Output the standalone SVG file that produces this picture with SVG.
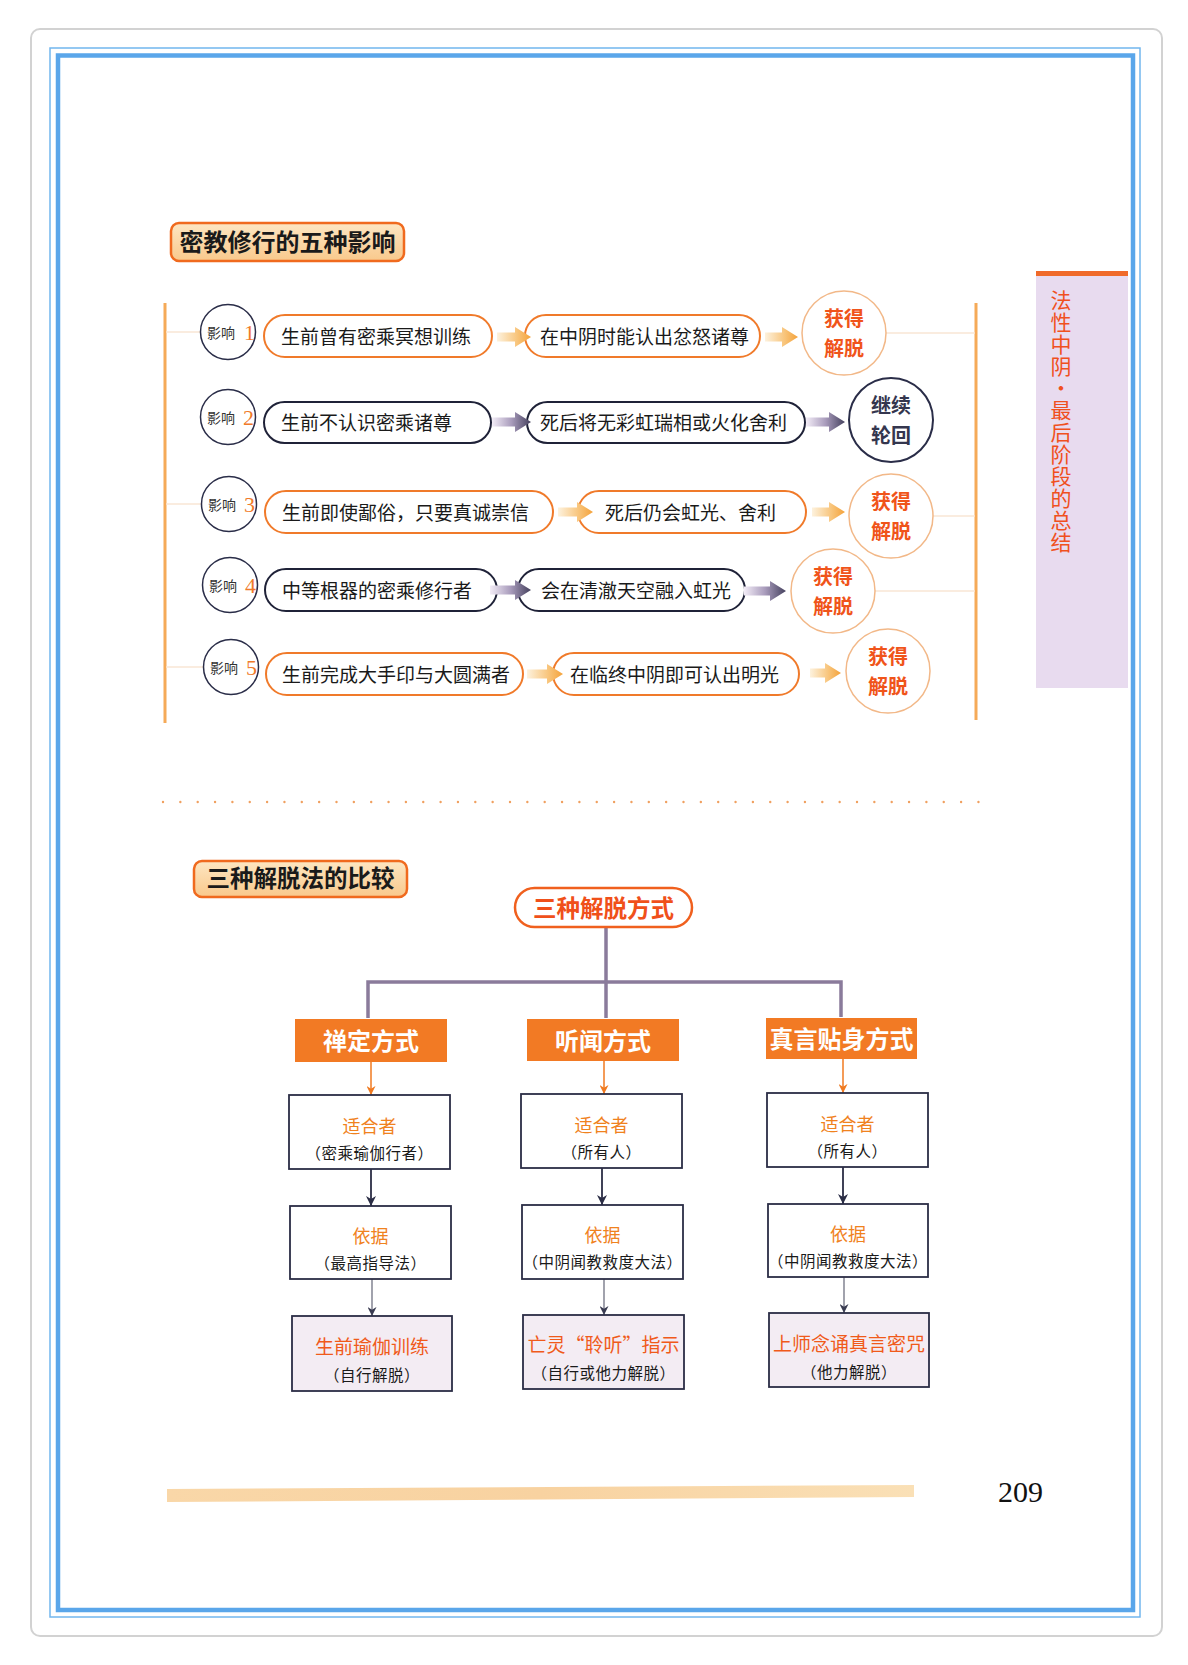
<svg xmlns="http://www.w3.org/2000/svg" width="1188" height="1665" viewBox="0 0 1188 1665">
<style>
  .cjk { font-family: "Noto Sans CJK SC", "Noto Sans", sans-serif; }
  .title { font-family: "Noto Sans CJK SC", sans-serif; font-weight: 700; fill: #1a1a1a; }
  .pillO { fill: #ffffff; stroke: #f07a2a; stroke-width: 2; }
  .pillD { fill: #ffffff; stroke: #1f2238; stroke-width: 2; }
  .ptxt { font-family: "Noto Sans CJK SC", sans-serif; font-size: 19px; fill: #1a1a1a; }
  .yx { fill: #ffffff; stroke: #2a2d48; stroke-width: 1.5; }
  .yxt { font-family: "Noto Sans CJK SC", sans-serif; font-size: 14px; fill: #333333; }
  .yxn { font-family: "Liberation Serif", serif; font-size: 22px; fill: #f07a2a; }
  .resO { fill: #ffffff; stroke: #f2b888; stroke-width: 1.5; }
  .resD { fill: #ffffff; stroke: #2a2d48; stroke-width: 2; }
  .rtO { font-family: "Noto Sans CJK SC", sans-serif; font-size: 20px; font-weight: 700; fill: #f0541a; }
  .rtD { font-family: "Noto Sans CJK SC", sans-serif; font-size: 20px; font-weight: 700; fill: #34364e; }
  .faint { stroke: #f9e6d4; stroke-width: 1.5; fill: none; }
  .vline { stroke: #f5aa58; stroke-width: 3; fill: none; }
  .hdr { fill: #f27a24; }
  .hdrt { font-family: "Noto Sans CJK SC", sans-serif; font-size: 24px; font-weight: 700; fill: #ffffff; }
  .box { fill: #ffffff; stroke: #2b2d45; stroke-width: 1.8; }
  .boxP { fill: #f3ecf3; stroke: #2b2d45; stroke-width: 1.8; }
  .l1 { font-family: "Noto Sans CJK SC", sans-serif; font-size: 18px; fill: #f0821e; }
  .l1r { font-family: "Noto Sans CJK SC", sans-serif; font-size: 19px; fill: #f05a1a; }
  .l2 { font-family: "Noto Sans CJK SC", sans-serif; font-size: 15.5px; fill: #1a1a1a; letter-spacing: 0.5px; }
  .trunk { stroke: #8a7b9b; stroke-width: 3.5; fill: none; }
  .cO { stroke: #f07a20; stroke-width: 1.5; fill: none; }
  .cD { stroke: #2b2d45; stroke-width: 1.8; fill: none; }
  .cG { stroke: #55566a; stroke-width: 1.1; fill: none; }
</style>
<defs>
  <linearGradient id="gO" x1="0" y1="0" x2="1" y2="0">
    <stop offset="0" stop-color="#fdf2de"/>
    <stop offset="0.6" stop-color="#f8c47a"/>
    <stop offset="1" stop-color="#f4a23a"/>
  </linearGradient>
  <linearGradient id="gD" x1="0" y1="0" x2="1" y2="0">
    <stop offset="0" stop-color="#f3edf7"/>
    <stop offset="0.5" stop-color="#a99cbc"/>
    <stop offset="1" stop-color="#45415e"/>
  </linearGradient>
  <linearGradient id="gTitle" x1="0" y1="0" x2="0" y2="1">
    <stop offset="0" stop-color="#fde6c2"/>
    <stop offset="1" stop-color="#f9c98c"/>
  </linearGradient>
  <linearGradient id="gBar" x1="0" y1="0" x2="1" y2="0">
    <stop offset="0" stop-color="#f9d7a8"/>
    <stop offset="0.5" stop-color="#f8d2a0"/>
    <stop offset="1" stop-color="#fae0b6"/>
  </linearGradient>
  <marker id="mO" viewBox="0 0 10 10" refX="10" refY="5" markerWidth="9" markerHeight="9" markerUnits="userSpaceOnUse" orient="auto">
    <path d="M0,0 L10,5 L0,10 L3,5 Z" fill="#f07a20"/>
  </marker>
  <marker id="mD" viewBox="0 0 10 10" refX="10" refY="5" markerWidth="11" markerHeight="10" markerUnits="userSpaceOnUse" orient="auto">
    <path d="M0,0 L10,5 L0,10 L3,5 Z" fill="#2b2d45"/>
  </marker>
  <marker id="mG" viewBox="0 0 10 10" refX="10" refY="5" markerWidth="10" markerHeight="9" markerUnits="userSpaceOnUse" orient="auto">
    <path d="M0,0 L10,5 L0,10 L3,5 Z" fill="#3a3c52"/>
  </marker>
</defs>

<rect width="1188" height="1665" fill="#ffffff"/>

<!-- page frame -->
<g id="frame">
  <rect x="31" y="29" width="1131" height="1607" rx="9" fill="#ffffff" stroke="#d2d2d2" stroke-width="2"/>
  <rect x="50" y="48" width="1090" height="1569" fill="#ffffff" stroke="#72b6ee" stroke-width="1.5"/>
  <rect x="58" y="55.5" width="1075" height="1554.5" fill="none" stroke="#5aa6ea" stroke-width="4.5"/>
</g>

<!-- side tab -->
<g id="sidetab">
  <rect x="1036" y="273" width="92" height="415" fill="#e8dbef"/>
  <rect x="1036" y="271" width="92" height="5" fill="#f06a2a"/>
  <text x="1061" y="290" class="cjk" font-size="21" fill="#f0501e" writing-mode="vertical-rl" letter-spacing="1">法性中阴・最后阶段的总结</text>
</g>

<!-- section 1 title -->
<g id="title1">
  <rect x="171" y="223" width="233" height="38" rx="8" fill="url(#gTitle)" stroke="#f06a1e" stroke-width="2.5"/>
  <text x="287.5" y="251" class="title" font-size="24" text-anchor="middle">密教修行的五种影响</text>
</g>

<!-- decorative lines -->
<g id="deco1">
  <line x1="165" y1="303" x2="165" y2="723" class="vline"/>
  <line x1="976" y1="303" x2="976" y2="720" class="vline"/>
  <line x1="166" y1="332" x2="200" y2="332" class="faint"/>
  <line x1="166" y1="504" x2="201" y2="504" class="faint"/>
  <line x1="166" y1="667" x2="203" y2="667" class="faint"/>
  <line x1="886" y1="333" x2="975" y2="333" class="faint"/>
  <line x1="933" y1="516" x2="975" y2="516" class="faint"/>
  <line x1="875" y1="591" x2="975" y2="591" class="faint"/>
</g>

<!-- row 1 -->
<g id="yx1"><circle cx="228" cy="332" r="27.5" class="yx"/><text x="207" y="338" class="yxt">影响</text><text x="244" y="340" class="yxn">1</text></g>
<g id="r1a"><rect x="264" y="315" width="228" height="42" rx="21" class="pillO"/><text x="281" y="344" class="ptxt">生前曾有密乘冥想训练</text></g>
<g id="r1b"><rect x="525" y="315" width="235" height="42" rx="21" class="pillO"/><text x="540" y="344" class="ptxt">在中阴时能认出忿怒诸尊</text></g>
<g id="r1c"><circle cx="844" cy="333" r="42" class="resO"/><text class="rtO" text-anchor="middle"><tspan x="844" y="326">获得</tspan><tspan x="844" y="355.5">解脱</tspan></text></g>

<!-- row 2 -->
<g id="yx2"><circle cx="228" cy="417" r="27.5" class="yx"/><text x="207" y="423" class="yxt">影响</text><text x="243" y="425" class="yxn">2</text></g>
<g id="r2a"><rect x="264" y="402" width="227" height="41" rx="20.5" class="pillD"/><text x="281" y="430" class="ptxt">生前不认识密乘诸尊</text></g>
<g id="r2b"><rect x="527" y="402" width="278" height="41" rx="20.5" class="pillD"/><text x="540" y="430" class="ptxt">死后将无彩虹瑞相或火化舍利</text></g>
<g id="r2c"><circle cx="891" cy="420" r="42" class="resD"/><text class="rtD" text-anchor="middle"><tspan x="891" y="413">继续</tspan><tspan x="891" y="442.5">轮回</tspan></text></g>

<!-- row 3 -->
<g id="yx3"><circle cx="229" cy="504" r="27.5" class="yx"/><text x="208" y="510" class="yxt">影响</text><text x="244" y="512" class="yxn">3</text></g>
<g id="r3a"><rect x="265" y="491" width="288" height="42" rx="21" class="pillO"/><text x="282" y="520" class="ptxt">生前即使鄙俗，只要真诚崇信</text></g>
<g id="r3b"><rect x="578" y="491" width="228" height="42" rx="21" class="pillO"/><text x="605" y="520" class="ptxt">死后仍会虹光、舍利</text></g>
<g id="r3c"><circle cx="891" cy="516" r="42" class="resO"/><text class="rtO" text-anchor="middle"><tspan x="891" y="509">获得</tspan><tspan x="891" y="538.5">解脱</tspan></text></g>

<!-- row 4 -->
<g id="yx4"><circle cx="230" cy="585" r="27.5" class="yx"/><text x="209" y="591" class="yxt">影响</text><text x="245" y="593" class="yxn">4</text></g>
<g id="r4a"><rect x="265" y="569" width="232" height="42" rx="21" class="pillD"/><text x="282" y="598" class="ptxt">中等根器的密乘修行者</text></g>
<g id="r4b"><rect x="518" y="569" width="227" height="42" rx="21" class="pillD"/><text x="541" y="598" class="ptxt">会在清澈天空融入虹光</text></g>
<g id="r4c"><circle cx="833" cy="591" r="42" class="resO"/><text class="rtO" text-anchor="middle"><tspan x="833" y="584">获得</tspan><tspan x="833" y="613.5">解脱</tspan></text></g>

<!-- row 5 -->
<g id="yx5"><circle cx="231" cy="667" r="27.5" class="yx"/><text x="210" y="673" class="yxt">影响</text><text x="246" y="675" class="yxn">5</text></g>
<g id="r5a"><rect x="266" y="653" width="257" height="42" rx="21" class="pillO"/><text x="282" y="682" class="ptxt">生前完成大手印与大圆满者</text></g>
<g id="r5b"><rect x="553" y="653" width="246" height="42" rx="21" class="pillO"/><text x="570" y="682" class="ptxt">在临终中阴即可认出明光</text></g>
<g id="r5c"><circle cx="888" cy="671" r="42" class="resO"/><text class="rtO" text-anchor="middle"><tspan x="888" y="664">获得</tspan><tspan x="888" y="693.5">解脱</tspan></text></g>

<!-- block arrow connectors of section 1 -->
<g id="connectors1">
  <path d="M497,332.5 H515 V327 L531,337 L515,347 V341.5 H497 Z" fill="url(#gO)"/>
  <path d="M765,332.5 H782 V327 L798,337 L782,347 V341.5 H765 Z" fill="url(#gO)"/>
  <path d="M492,417.5 H515 V412 L531,422 L515,432 V426.5 H492 Z" fill="url(#gD)"/>
  <path d="M806,417.5 H829 V412 L845,422 L829,432 V426.5 H806 Z" fill="url(#gD)"/>
  <path d="M558,507.5 H577 V502 L593,512 L577,522 V516.5 H558 Z" fill="url(#gO)"/>
  <path d="M812,507.5 H829 V502 L845,512 L829,522 V516.5 H812 Z" fill="url(#gO)"/>
  <path d="M490,585.5 H515 V580 L531,590 L515,600 V594.5 H490 Z" fill="url(#gD)"/>
  <path d="M744,586.5 H770 V581 L786,591 L770,601 V595.5 H744 Z" fill="url(#gD)"/>
  <path d="M527,669.5 H547 V664 L563,674 L547,684 V678.5 H527 Z" fill="url(#gO)"/>
  <path d="M810,668.5 H825 V663 L841,673 L825,683 V677.5 H810 Z" fill="url(#gO)"/>
</g>

<!-- dotted separator -->
<line x1="163" y1="802" x2="982" y2="802" stroke="#f0a060" stroke-width="2.4" stroke-linecap="round" stroke-dasharray="0 17.35"/>

<!-- section 2 title -->
<g id="title2">
  <rect x="194" y="861" width="213" height="36" rx="8" fill="url(#gTitle)" stroke="#f06a1e" stroke-width="2.5"/>
  <text x="300.5" y="887" class="title" font-size="23.5" text-anchor="middle">三种解脱法的比较</text>
</g>

<!-- connectors of section 2 -->
<g id="connectors2">
  <path d="M606,927 V1018" class="trunk"/>
  <path d="M368,1018 V982 H841 V1017" class="trunk"/>
  <line x1="371" y1="1062" x2="371" y2="1095" class="cO" marker-end="url(#mO)"/>
  <line x1="604" y1="1061" x2="604" y2="1094" class="cO" marker-end="url(#mO)"/>
  <line x1="843" y1="1059" x2="843" y2="1093" class="cO" marker-end="url(#mO)"/>
  <line x1="371" y1="1169" x2="371" y2="1206" class="cD" marker-end="url(#mD)"/>
  <line x1="602" y1="1168" x2="602" y2="1205" class="cD" marker-end="url(#mD)"/>
  <line x1="843" y1="1167" x2="843" y2="1204" class="cD" marker-end="url(#mD)"/>
  <line x1="372" y1="1279" x2="372" y2="1316" class="cG" marker-end="url(#mG)"/>
  <line x1="604" y1="1279" x2="604" y2="1315" class="cG" marker-end="url(#mG)"/>
  <line x1="844" y1="1277" x2="844" y2="1313" class="cG" marker-end="url(#mG)"/>
</g>

<g id="root">
  <rect x="515" y="888" width="177" height="39" rx="19.5" fill="#ffffff" stroke="#f0601e" stroke-width="2.5"/>
  <text x="603.5" y="917" class="cjk" font-size="23.5" font-weight="700" fill="#f0501a" text-anchor="middle">三种解脱方式</text>
</g>

<g id="h1"><rect x="295" y="1019" width="152" height="43" class="hdr"/><text x="371" y="1050" class="hdrt" text-anchor="middle">禅定方式</text></g>
<g id="h2"><rect x="527" y="1019" width="152" height="42" class="hdr"/><text x="603" y="1050" class="hdrt" text-anchor="middle">听闻方式</text></g>
<g id="h3"><rect x="766" y="1018" width="151" height="41" class="hdr"/><text x="841.5" y="1048" class="hdrt" text-anchor="middle">真言贴身方式</text></g>

<!-- column 1 -->
<g id="c1a"><rect x="289" y="1095" width="161" height="74" class="box"/><text x="369.5" y="1133" class="l1" text-anchor="middle">适合者</text><text x="369.5" y="1159" class="l2" text-anchor="middle">（密乘瑜伽行者）</text></g>
<g id="c1b"><rect x="290" y="1206" width="161" height="73" class="box"/><text x="370.5" y="1243" class="l1" text-anchor="middle">依据</text><text x="370.5" y="1269" class="l2" text-anchor="middle">（最高指导法）</text></g>
<g id="c1c"><rect x="292" y="1316" width="160" height="75" class="boxP"/><text x="372" y="1354" class="l1r" text-anchor="middle">生前瑜伽训练</text><text x="372" y="1381" class="l2" text-anchor="middle" letter-spacing="2">（自行解脱）</text></g>

<!-- column 2 -->
<g id="c2a"><rect x="521" y="1094" width="161" height="74" class="box"/><text x="601.5" y="1132" class="l1" text-anchor="middle">适合者</text><text x="601.5" y="1158" class="l2" text-anchor="middle">（所有人）</text></g>
<g id="c2b"><rect x="522" y="1205" width="161" height="74" class="box"/><text x="602.5" y="1242" class="l1" text-anchor="middle">依据</text><text x="602.5" y="1268" class="l2" text-anchor="middle" letter-spacing="-0.5">（中阴闻教救度大法）</text></g>
<g id="c2c"><rect x="523" y="1315" width="161" height="74" class="boxP"/><text x="603.5" y="1352" class="l1r" text-anchor="middle">亡灵“聆听”指示</text><text x="603.5" y="1379" class="l2" text-anchor="middle">（自行或他力解脱）</text></g>

<!-- column 3 -->
<g id="c3a"><rect x="767" y="1093" width="161" height="74" class="box"/><text x="847.5" y="1131" class="l1" text-anchor="middle">适合者</text><text x="847.5" y="1157" class="l2" text-anchor="middle">（所有人）</text></g>
<g id="c3b"><rect x="768" y="1204" width="160" height="73" class="box"/><text x="848" y="1241" class="l1" text-anchor="middle">依据</text><text x="848" y="1267" class="l2" text-anchor="middle" letter-spacing="-0.5">（中阴闻教救度大法）</text></g>
<g id="c3c"><rect x="769" y="1313" width="160" height="74" class="boxP"/><text x="849" y="1351" class="l1r" text-anchor="middle" font-size="20">上师念诵真言密咒</text><text x="849" y="1378" class="l2" text-anchor="middle" letter-spacing="2">（他力解脱）</text></g>

<!-- footer -->
<polygon points="167,1489 914,1485 914,1497 167,1502" fill="url(#gBar)"/>
<text x="998" y="1502" font-family="Liberation Serif, serif" font-size="30" fill="#111111">209</text>
</svg>
